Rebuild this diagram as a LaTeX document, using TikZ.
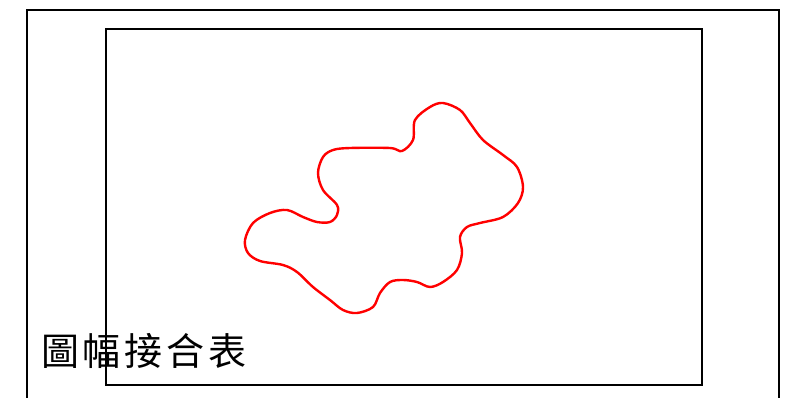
\documentclass[tikz,border=0pt]{standalone}
\usepackage{fontspec}
\newfontfamily\cjk[LetterSpace=10]{Noto Sans CJK TC}
\begin{document}
\begin{tikzpicture}[x=1pt,y=-1pt,
  frame/.style={draw=black,line width=2.4pt},
  blob/.style={draw=red,line width=2.4pt}]
\useasboundingbox (0,0) rectangle (806,397);
\draw[frame] (27,400) -- (27,10) -- (779,10) -- (779,400);
\node[frame,draw,minimum width=596pt,minimum height=356pt,inner sep=0pt,anchor=north west] (inner) at (105,28) {};
\draw[blob] plot[smooth cycle,tension=0.55] coordinates {
(402,151) (413,140) (415,120) (430,107) (443,103) (460,110) (470,123) (483,140) (503,155) (517,167) (523,187) (518,203) (503,217) (480,223) (467,227) (460,237) (462,253) (457,270) (443,282) (430,287) (417,282) (403,280) (390,282) (380,293) (373,307) (357,313) (343,310) (330,300) (313,287) (297,272) (283,265) (260,261) (248,253) (245,240) (253,223) (270,213) (287,210) (303,217) (317,222) (330,222) (337,215) (337,205) (323,190) (318,173) (323,157) (333,150) (350,148) (390,148)};
\node[anchor=west,inner sep=0pt,font=\cjk\fontsize{38}{38}\selectfont] (title) at (41,351) {圖幅接合表};
\end{tikzpicture}
\end{document}
